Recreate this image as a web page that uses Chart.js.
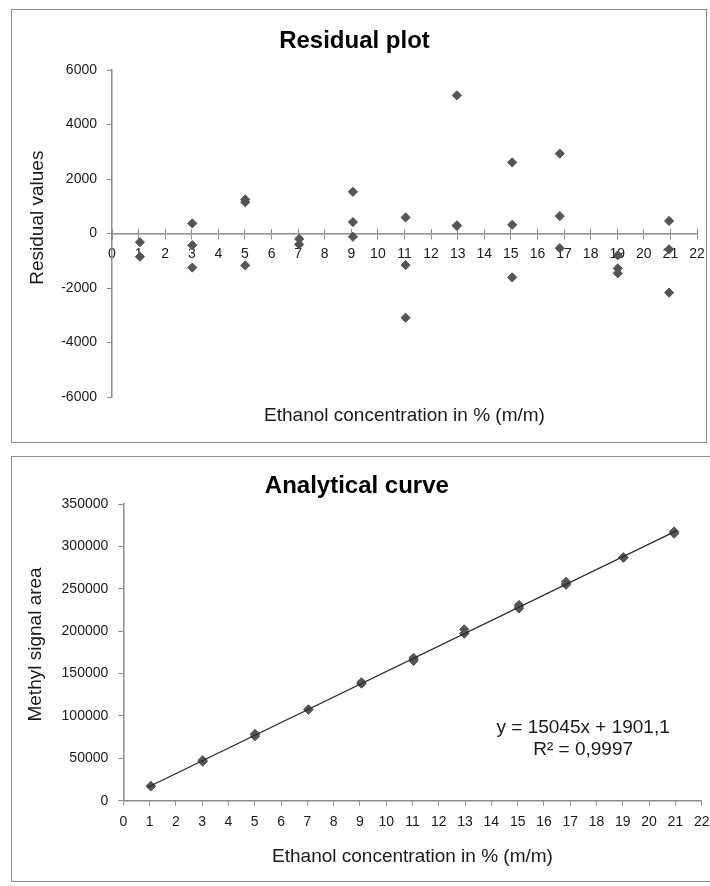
<!DOCTYPE html>
<html>
<head>
<meta charset="utf-8">
<title>Residual plot / Analytical curve</title>
<script src="https://cdn.jsdelivr.net/npm/chart.js@4/dist/chart.umd.min.js"></script>
<style>
  html, body { margin: 0; padding: 0; background: #fff; }
  body { width: 710px; height: 886px; position: relative; overflow: hidden; }
  .panel { position: absolute; border: 1px solid #8c8c8c; background: #fff; }
  #residualPanel { left: 11px; top: 9px; width: 694px; height: 432px; }
  #curvePanel { left: 11px; top: 456px; width: 700px; height: 424px; }
  canvas { display: block; }
</style>
</head>
<body>
<div class="panel" id="residualPanel"><canvas id="residualChart" width="694" height="432"></canvas></div>
<div class="panel" id="curvePanel"><canvas id="curveChart" width="700" height="424"></canvas></div>

<script>
// values
const residualConc = [1.05, 1.05, 3.02, 3.02, 3.02, 5.01, 5.01, 5.01, 7.04, 7.04,
  9.06, 9.06, 9.06, 11.04, 11.04, 11.04, 12.97, 12.97, 12.97, 15.05, 15.05, 15.05,
  16.84, 16.84, 16.84, 19.02, 19.02, 19.02, 20.95, 20.95, 20.95];
const residualValues = [-320, -850, 370, -430, -1250, 1250, 1150, -1170, -200, -400,
  1530, 420, -120, 590, -1160, -3090, 5070, 300, 280, 2610, 320, -1610,
  2930, 640, -540, -800, -1280, -1460, 460, -580, -2170];

const areaConc = residualConc;
const areaValues = [17380, 16850, 47710, 46910, 46090, 78530, 78430, 76110, 107620, 107420,
  139740, 138630, 138090, 168590, 166840, 164910, 202100, 197340, 197320, 230940, 228650, 226720,
  258190, 255900, 254720, 287260, 286780, 286600, 317550, 316510, 314920];

const trendConc = [0.95, 21.05];
const trendValues = [16200, 318600];
const equationLines = ["y = 15045x + 1901,1", "R² = 0,9997"];

const xTicks = { min: 0, max: 22, step: 1 };
const residualTicks = { min: -6000, max: 6000, step: 2000 };
const areaTicks = { min: 0, max: 350000, step: 50000 };

const FONT = "'Liberation Sans', Arial, Helvetica, sans-serif";
const AXIS_GRAY = "#8c8c8c";
const MARKER = "#555555";
const TEXT = "#1a1a1a";

Chart.defaults.font.family = FONT;
Chart.defaults.color = TEXT;

let residualChart, curveChart;

function toPoints(xs, ys) {
  return xs.map((x, i) => ({ x, y: ys[i] }));
}

function fixSize(width, height) {
  return scale => {
    if (width !== undefined) scale.width = width;
    if (height !== undefined) scale.height = height;
    scale.paddingLeft = 0;
    scale.paddingRight = 0;
    scale.paddingTop = 0;
    scale.paddingBottom = 0;
  };
}

function markerDataset(data) {
  return {
    data,
    pointStyle: "rectRot",
    pointRadius: 4.6,
    pointBackgroundColor: MARKER,
    pointBorderColor: MARKER,
    pointBorderWidth: 1,
    showLine: false
  };
}

const tickFont = { size: 14 };
const titleFont = { size: 19 };

const equationLabel = {
  id: "equationLabel",
  afterDatasetsDraw(chart) {
    const { ctx, chartArea } = chart;
    const x = chartArea.left + chartArea.width * 0.795;
    ctx.save();
    ctx.font = `19px ${FONT}`;
    ctx.fillStyle = TEXT;
    ctx.textAlign = "center";
    ctx.textBaseline = "middle";
    ctx.fillText(equationLines[0], x, chartArea.top + chartArea.height * 0.755);
    ctx.fillText(equationLines[1], x, chartArea.top + chartArea.height * 0.828);
    ctx.restore();
  }
};

function initResidualChart() {
  const ctx = document.getElementById("residualChart");
  if (residualChart) residualChart.destroy();
  residualChart = new Chart(ctx, {
    type: "scatter",
    data: { datasets: [markerDataset(toPoints(residualConc, residualValues))] },
    options: {
      responsive: false,
      animation: false,
      events: [],
      layout: { padding: { left: 0, right: 9, top: 0, bottom: 0 } },
      plugins: {
        legend: { display: false },
        tooltip: { enabled: false },
        title: {
          display: true,
          text: "Residual plot",
          color: "#000",
          font: { size: 24, weight: "bold" },
          padding: { top: 16.5, bottom: 14.7 }
        }
      },
      scales: {
        x: {
          type: "linear",
          position: { y: 0 },
          min: xTicks.min,
          max: xTicks.max,
          afterFit: fixSize(undefined, 30),
          ticks: { stepSize: xTicks.step, autoSkip: false, maxRotation: 0, padding: 7, font: tickFont, callback: v => String(v) },
          grid: { drawOnChartArea: false, drawTicks: true, tickLength: 5, color: AXIS_GRAY },
          border: { display: true, color: AXIS_GRAY, width: 1.5 }
        },
        xUp: {
          type: "linear",
          position: { y: 0 },
          min: xTicks.min,
          max: xTicks.max,
          afterFit: fixSize(undefined, 0),
          ticks: { display: false, stepSize: xTicks.step, autoSkip: false },
          grid: { drawOnChartArea: false, drawTicks: true, tickLength: -5, color: AXIS_GRAY },
          border: { display: false }
        },
        xTitle: {
          type: "linear",
          position: "bottom",
          min: xTicks.min,
          max: xTicks.max,
          afterFit: fixSize(undefined, 45),
          ticks: { display: false },
          grid: { display: false },
          border: { display: false },
          title: {
            display: true,
            text: "Ethanol concentration in % (m/m)",
            font: titleFont,
            padding: { top: 0, bottom: 14.5 }
          }
        },
        y: {
          type: "linear",
          position: "left",
          min: residualTicks.min,
          max: residualTicks.max,
          afterFit: fixSize(100),
          ticks: { stepSize: residualTicks.step, padding: 10, font: tickFont, callback: v => String(v) },
          grid: { drawOnChartArea: false, drawTicks: true, tickLength: 5, color: AXIS_GRAY },
          border: { display: true, color: AXIS_GRAY, width: 1.5 },
          title: {
            display: true,
            // leading spaces nudge the rotated label upward, as in the source
            text: "      Residual values",
            font: titleFont,
            padding: { top: 14.6, bottom: 0 }
          }
        }
      }
    }
  });
}

function initCurveChart() {
  const ctx = document.getElementById("curveChart");
  if (curveChart) curveChart.destroy();
  curveChart = new Chart(ctx, {
    type: "scatter",
    data: {
      datasets: [
        {
          data: toPoints(trendConc, trendValues),
          showLine: true,
          borderColor: "#2b2b2b",
          borderWidth: 1.3,
          pointRadius: 0,
          order: 0
        },
        Object.assign(markerDataset(toPoints(areaConc, areaValues)), { order: 1 })
      ]
    },
    options: {
      responsive: false,
      animation: false,
      events: [],
      layout: { padding: { left: 0, right: 10.3, top: 0, bottom: 0 } },
      plugins: {
        legend: { display: false },
        tooltip: { enabled: false },
        title: {
          display: true,
          text: "Analytical curve",
          color: "#000",
          font: { size: 24, weight: "bold" },
          padding: { top: 15, bottom: 3.2 }
        }
      },
      scales: {
        x: {
          type: "linear",
          position: "bottom",
          min: xTicks.min,
          max: xTicks.max,
          afterFit: fixSize(undefined, 80.3),
          ticks: { stepSize: xTicks.step, autoSkip: false, maxRotation: 0, padding: 8, font: tickFont, callback: v => String(v) },
          grid: { drawOnChartArea: false, drawTicks: true, tickLength: 5, color: AXIS_GRAY },
          border: { display: true, color: AXIS_GRAY, width: 1.5 },
          title: {
            display: true,
            text: "Ethanol concentration in % (m/m)",
            font: titleFont,
            padding: { top: 0, bottom: 12.6 }
          }
        },
        y: {
          type: "linear",
          position: "left",
          min: areaTicks.min,
          max: areaTicks.max,
          afterFit: fixSize(111.3),
          ticks: { stepSize: areaTicks.step, padding: 10, font: tickFont, callback: v => String(v) },
          grid: { drawOnChartArea: false, drawTicks: true, tickLength: 5, color: AXIS_GRAY },
          border: { display: true, color: AXIS_GRAY, width: 1.5 },
          title: {
            display: true,
            text: "   Methyl signal area",
            font: titleFont,
            padding: { top: 12.6, bottom: 0 }
          }
        }
      }
    },
    plugins: [equationLabel]
  });
}

initResidualChart();
initCurveChart();
</script>
</body>
</html>
